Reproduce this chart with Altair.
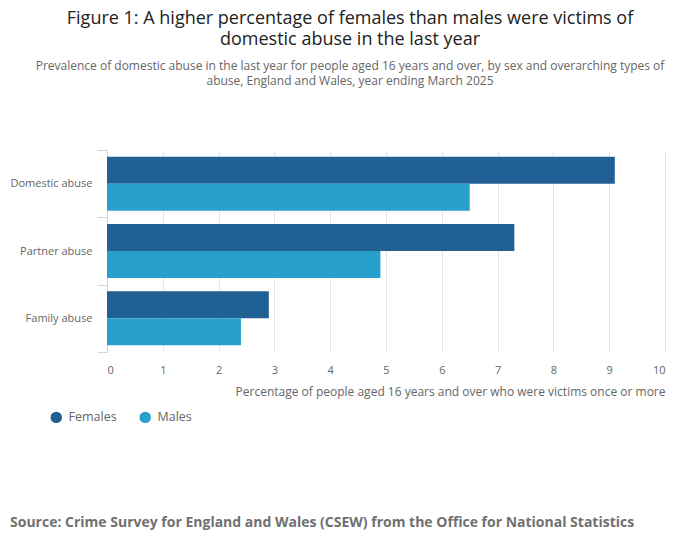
import altair as alt
import pandas as pd

categories = ["Domestic abuse", "Partner abuse", "Family abuse"]
females = [9.1, 7.3, 2.9]
males = [6.5, 4.9, 2.4]
sexes = ["Females", "Males"]
colors = ["#206095", "#27a0cc"]

rows = []
for c, f, m in zip(categories, females, males):
    rows.append({"type": c, "sex": "Females", "value": f})
    rows.append({"type": c, "sex": "Males", "value": m})
df = pd.DataFrame(rows)

FONT = "Open Sans"

bars = alt.Chart(df).mark_bar().encode(
    x=alt.X("value:Q",
            scale=alt.Scale(domain=[0, 10], nice=False),
            axis=alt.Axis(values=list(range(0, 11)), title="Percentage of people aged 16 years and over who were victims once or more",
                          titleAnchor="end", titleAlign="right", titleFontWeight="normal",
                          titleFontSize=12, titleColor="#666666", titleFont=FONT, titlePadding=11,
                          labelFontSize=11, labelColor="#666666", labelFont=FONT, labelPadding=12,
                          grid=True, gridColor="#e6e6e6", domain=False, ticks=False)),
    y=alt.Y("type:N", sort=categories,
            scale=alt.Scale(paddingInner=0, paddingOuter=0),
            axis=alt.Axis(title=None, tickBand="extent", tickSize=10, tickColor="#ccd6eb",
                          domainColor="#ccd6eb", labelFontSize=11, labelColor="#666666",
                          labelFont=FONT, labelPadding=5, grid=False)),
    yOffset=alt.YOffset("sex:N", sort=sexes, scale=alt.Scale(paddingInner=0, paddingOuter=0.246)),
    color=alt.Color("sex:N", sort=sexes, scale=alt.Scale(domain=sexes, range=colors),
                    legend=alt.Legend(title=None, orient="none", legendX=-57, legendY=261,
                                      direction="horizontal", symbolType="circle", symbolSize=130,
                                      symbolStrokeWidth=0, labelFontSize=12.5, labelColor="#666666",
                                      labelFont=FONT, columnPadding=22, labelOffset=6)),
)

source = alt.Chart(pd.DataFrame({"t": ["Source: Crime Survey for England and Wales (CSEW) from the Office for National Statistics"]})).mark_text(
    align="left", baseline="middle", font=FONT, fontSize=14, fontWeight="bold", color="#707070"
).encode(text="t:N", x=alt.value(-97), y=alt.value(373))

chart = alt.layer(bars, source).properties(
    width=558, height=202,
    autosize=alt.AutoSizeParams(type="none"),
    padding={"left": 107, "top": 150, "right": 35, "bottom": 197},
    title=alt.Title(
        text=["Figure 1: A higher percentage of females than males were victims of", "domestic abuse in the last year"],
        subtitle=["Prevalence of domestic abuse in the last year for people aged 16 years and over, by sex and overarching types of",
                  "abuse, England and Wales, year ending March 2025"],
        anchor="middle", dx=-36, offset=57, font=FONT, fontSize=18, fontWeight="normal", color="#222222",
        lineHeight=21, subtitleFont=FONT, subtitleFontSize=12, subtitleColor="#666666",
        subtitleLineHeight=15, subtitlePadding=12,
    ),
).configure_view(stroke=None)

chart.save("out.html", embed_options={"renderer": "svg", "actions": False})
